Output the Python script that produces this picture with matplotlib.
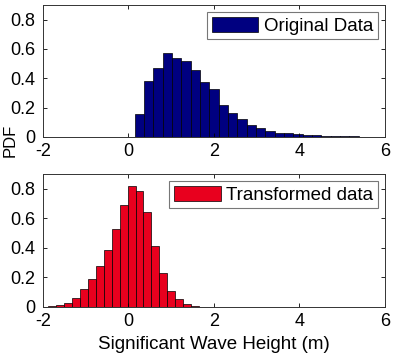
import numpy as np
import matplotlib.pyplot as plt
from matplotlib.ticker import FormatStrFormatter

# original Hs histogram (pdf-normalised), 25 bins
orig_start = 0.15
orig_width = 0.218
orig_pdf = [0.155, 0.385, 0.471, 0.572, 0.541, 0.516, 0.46, 0.376, 0.325, 0.216,
            0.162, 0.126, 0.083, 0.059, 0.043, 0.029, 0.025, 0.02, 0.016, 0.011,
            0.009, 0.007, 0.005, 0.004, 0.003]

# transformed data histogram, 20 bins
trans_start = -1.88
trans_width = 0.186
trans_pdf = [0.005, 0.011, 0.027, 0.061, 0.12, 0.187, 0.277, 0.383, 0.53, 0.687,
             0.818, 0.784, 0.642, 0.41, 0.23, 0.108, 0.052, 0.02, 0.007, 0.002]

xticks = [-2, 0, 2, 4, 6]
yticks = [0, 0.2, 0.4, 0.6, 0.8]

plt.rcParams['font.family'] = ['Liberation Sans', 'DejaVu Sans']
plt.rcParams['font.size'] = 13
plt.rcParams['axes.unicode_minus'] = False

fig = plt.figure(figsize=(3.94, 3.54), dpi=100)
ax1 = fig.add_axes([0.109, 0.613, 0.868, 0.373])
ax2 = fig.add_axes([0.109, 0.133, 0.868, 0.376])


def draw(ax, start, width, pdf, color, label):
    left = start + width * np.arange(len(pdf))
    ax.bar(left, pdf, width=width, align='edge', color=color,
           edgecolor='black', linewidth=0.5, label=label)
    ax.set_xlim(-2, 6)
    ax.set_ylim(0, 0.9)
    ax.set_xticks(xticks)
    ax.set_yticks(yticks)
    ax.yaxis.set_major_formatter(FormatStrFormatter('%g'))
    ax.tick_params(direction='in', top=True, right=True, length=3, width=0.6,
                   labelsize=13)
    ax.tick_params(axis='x', pad=4.5)
    ax.tick_params(axis='y', pad=5.5)
    for s in ax.spines.values():
        s.set_linewidth(0.7)
        s.set_color('#333333')
    leg = ax.legend(loc='upper right', bbox_to_anchor=(0.98, 0.947), borderaxespad=0,
                    fancybox=False, handlelength=2.5, handleheight=0.85,
                    handletextpad=0.3, borderpad=0.25, fontsize=13.5)
    leg.get_frame().set_edgecolor('#555555')
    leg.get_frame().set_linewidth(0.8)


draw(ax1, orig_start, orig_width, orig_pdf, '#000080', 'Original Data')
draw(ax2, trans_start, trans_width, trans_pdf, '#e8001e', 'Transformed data')

ax2.set_xlabel('Significant Wave Height (m)', fontsize=13.5, labelpad=4)
fig.text(0.025, 1 - 140 / 354, 'PDF', rotation=90, ha='center', va='center', fontsize=12)

plt.savefig('out.png', dpi=100)
